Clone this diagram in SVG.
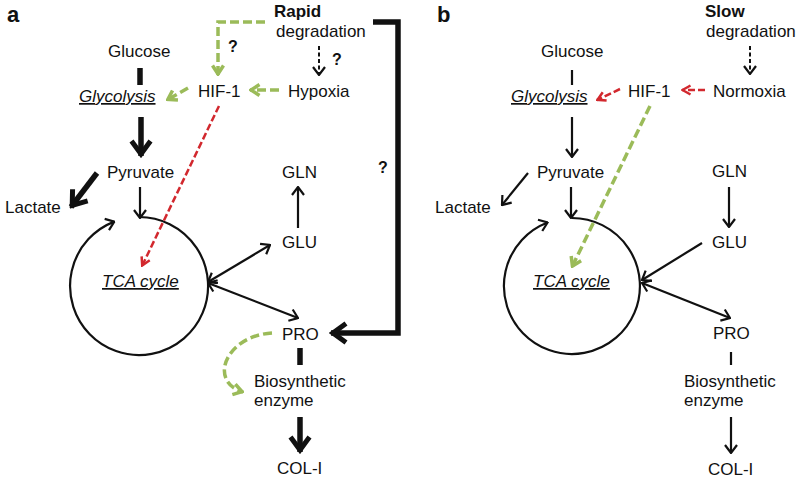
<svg xmlns="http://www.w3.org/2000/svg" width="800" height="480" viewBox="0 0 800 480">
<style>
text{font-family:"Liberation Sans",Arial,sans-serif;font-size:17px;fill:#111}
.b{font-weight:bold}
.q{font-weight:bold;font-size:16px}
.lbl{font-weight:bold;font-size:22px}
.it{font-style:italic;text-decoration:underline}
.k{stroke:#111;stroke-width:2.2;fill:none}
.kt{stroke:#111;stroke-width:5.5;fill:none}
.kd{stroke:#111;stroke-width:2;fill:none;stroke-dasharray:4 2.5}
.g{stroke:#9bbb59;stroke-width:3.5;fill:none;stroke-dasharray:9 4}
.r{stroke:#d2282e;stroke-width:2.5;fill:none;stroke-dasharray:7 3}
</style>
<defs>
<marker id="ah" viewBox="0 0 10 14" refX="9" refY="7" markerWidth="10" markerHeight="14" markerUnits="userSpaceOnUse" orient="auto-start-reverse"><path d="M1,1 L9,7 L1,13" fill="none" stroke="#111" stroke-width="2.2"/></marker>
<marker id="aht" viewBox="0 0 20 24" refX="18" refY="12" markerWidth="20" markerHeight="24" markerUnits="userSpaceOnUse" orient="auto"><path d="M3,2.5 L16,12 L3,21.5" fill="none" stroke="#111" stroke-width="5"/></marker>
<marker id="ahg" viewBox="0 0 12 14" refX="11" refY="7" markerWidth="12" markerHeight="14" markerUnits="userSpaceOnUse" orient="auto"><path d="M1.5,1.5 L10,7 L1.5,12.5" fill="none" stroke="#9bbb59" stroke-width="3.5"/></marker>
<marker id="ahr" viewBox="0 0 11 12" refX="10" refY="6" markerWidth="11" markerHeight="12" markerUnits="userSpaceOnUse" orient="auto"><path d="M1.5,1.5 L9.5,6 L1.5,10.5" fill="none" stroke="#d2282e" stroke-width="2.5"/></marker>
</defs>

<g id="panel-a-label"><text class="lbl" x="7" y="22">a</text></g>
<g id="a-degradation"><text class="b" x="274" y="17">Rapid</text><text x="276" y="37">degradation</text></g>
<g id="a-glucose"><text x="108" y="57">Glucose</text></g>
<g id="a-glycolysis"><text class="it" x="79" y="102">Glycolysis</text></g>
<g id="a-hif1"><text x="198" y="97">HIF-1</text></g>
<g id="a-hypoxia"><text x="288" y="97">Hypoxia</text></g>
<g id="a-pyruvate"><text x="107" y="178">Pyruvate</text></g>
<g id="a-lactate"><text x="5" y="213">Lactate</text></g>
<g id="a-gln"><text x="282" y="178">GLN</text></g>
<g id="a-glu"><text x="282" y="248">GLU</text></g>
<g id="a-tca"><path class="k" d="M139,217 A69,69 0 1 1 114.3,221.6" marker-end="url(#ah)"/><text class="it" x="102" y="287">TCA cycle</text></g>
<g id="a-pro"><text x="282" y="340">PRO</text></g>
<g id="a-enzyme"><text x="254" y="387">Biosynthetic</text><text x="254" y="406">enzyme</text></g>
<g id="a-col"><text x="277" y="474">COL-I</text></g>

<g id="panel-b-label"><text class="lbl" x="437" y="22">b</text></g>
<g id="b-degradation"><text class="b" x="705" y="17">Slow</text><text x="706" y="37">degradation</text></g>
<g id="b-glucose"><text x="541" y="57">Glucose</text></g>
<g id="b-glycolysis"><text class="it" x="511" y="102">Glycolysis</text></g>
<g id="b-hif1"><text x="628" y="97">HIF-1</text></g>
<g id="b-normoxia"><text x="713" y="97">Normoxia</text></g>
<g id="b-pyruvate"><text x="537" y="178">Pyruvate</text></g>
<g id="b-lactate"><text x="435" y="213">Lactate</text></g>
<g id="b-gln"><text x="712" y="177">GLN</text></g>
<g id="b-glu"><text x="712" y="248">GLU</text></g>
<g id="b-tca"><path class="k" d="M572,218 A68,68 0 1 1 547.6,222.5" marker-end="url(#ah)"/><text class="it" x="533" y="287">TCA cycle</text></g>
<g id="b-pro"><text x="713" y="339">PRO</text></g>
<g id="b-enzyme"><text x="684" y="387">Biosynthetic</text><text x="684" y="406">enzyme</text></g>
<g id="b-col"><text x="708" y="475">COL-I</text></g>

<g id="connectors">
<!-- panel a -->
<polyline class="g" points="265,22 218,22 218,75" marker-end="url(#ahg)"/>
<text class="q" x="228" y="52">?</text>
<line class="kd" x1="319" y1="46" x2="319" y2="75" marker-end="url(#ah)"/>
<text class="q" x="332" y="65">?</text>
<line class="g" x1="279" y1="90" x2="250" y2="90" marker-end="url(#ahg)"/>
<line class="g" x1="188" y1="88" x2="167" y2="100" marker-end="url(#ahg)"/>
<line class="r" x1="219" y1="106" x2="142" y2="266" marker-end="url(#ahr)"/>
<line class="kt" x1="140" y1="68" x2="140" y2="85"/>
<line class="kt" x1="141" y1="117" x2="141" y2="156" marker-end="url(#aht)"/>
<line class="kt" x1="97" y1="173" x2="71" y2="207" marker-end="url(#aht)"/>
<line class="k" x1="140" y1="187" x2="140" y2="218" marker-end="url(#ah)"/>
<line class="k" x1="298" y1="228" x2="298" y2="187" marker-end="url(#ah)"/>
<line class="k" x1="208" y1="282" x2="270" y2="245" marker-start="url(#ah)" marker-end="url(#ah)"/>
<line class="k" x1="208" y1="283" x2="298" y2="318" marker-start="url(#ah)" marker-end="url(#ah)"/>
<polyline class="kt" points="373,22 398,22 398,333 331,333" marker-end="url(#aht)"/>
<text class="q" x="378" y="173">?</text>
<path class="g" d="M272,333 C225,336 208,382 243,392" marker-end="url(#ahg)"/>
<line class="kt" x1="300" y1="348" x2="300" y2="365"/>
<line class="kt" x1="300" y1="417" x2="300" y2="452" marker-end="url(#aht)"/>
<!-- panel b -->
<line class="kd" x1="750" y1="46" x2="750" y2="74" marker-end="url(#ah)"/>
<line class="r" x1="705" y1="90" x2="682" y2="90" marker-end="url(#ahr)"/>
<line class="r" x1="620" y1="89" x2="597" y2="100" marker-end="url(#ahr)"/>
<line class="g" x1="650" y1="106" x2="572" y2="267" marker-end="url(#ahg)"/>
<line class="k" stroke-width="2.5" x1="572" y1="70" x2="572" y2="85"/>
<line class="k" x1="572" y1="117" x2="572" y2="157" marker-end="url(#ah)"/>
<line class="k" x1="528" y1="173" x2="502" y2="205" marker-end="url(#ah)"/>
<line class="k" x1="571" y1="187" x2="571" y2="218" marker-end="url(#ah)"/>
<line class="k" x1="729" y1="187" x2="729" y2="227" marker-end="url(#ah)"/>
<line class="k" x1="702" y1="243" x2="642" y2="280" marker-end="url(#ah)"/>
<line class="k" x1="642" y1="283" x2="730" y2="318" marker-start="url(#ah)" marker-end="url(#ah)"/>
<line class="k" stroke-width="2.5" x1="731" y1="352" x2="731" y2="365"/>
<line class="k" x1="731" y1="417" x2="731" y2="453" marker-end="url(#ah)"/>
</g>
</svg>
